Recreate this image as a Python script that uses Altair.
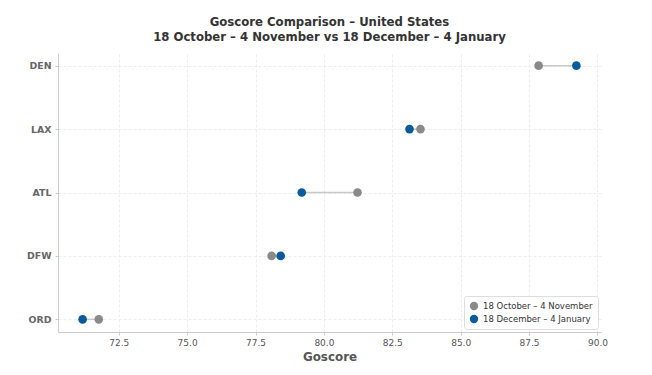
import altair as alt
import pandas as pd

airports = ["DEN", "LAX", "ATL", "DFW", "ORD"]
period_a = "18 October – 4 November"
period_b = "18 December – 4 January"
score_a = [87.85, 83.53, 81.23, 78.09, 71.77]
score_b = [89.23, 83.13, 79.19, 78.42, 71.18]
x_ticks = [72.5, 75.0, 77.5, 80.0, 82.5, 85.0, 87.5, 90.0]

wide = pd.DataFrame({"airport": airports, "a": score_a, "b": score_b})
long = pd.DataFrame({
    "airport": airports + airports,
    "period": [period_a] * len(airports) + [period_b] * len(airports),
    "score": score_a + score_b,
})

FONT = "DejaVu Sans"
xscale = alt.Scale(domain=[70.28, 90.13], nice=False, zero=False)
yscale = alt.Scale(type="point", domain=airports, padding=0.2)

rules = alt.Chart(wide).mark_rule(color="#c8c8c8", strokeWidth=1.5).encode(
    x=alt.X("a:Q", scale=xscale),
    x2="b:Q",
    y=alt.Y("airport:N", scale=yscale),
)

points = alt.Chart(long).mark_point(filled=True, size=75, opacity=1).encode(
    x=alt.X("score:Q", scale=xscale,
            axis=alt.Axis(title="Goscore", values=x_ticks, format=".1f")),
    y=alt.Y("airport:N", scale=yscale, axis=alt.Axis(title=None, grid=True)),
    color=alt.Color("period:N",
                    scale=alt.Scale(domain=[period_a, period_b], range=["#8a8a8a", "#0a5a9c"]),
                    legend=alt.Legend(title=None, orient="bottom-right", offset=3,
                                      symbolType="circle", symbolSize=70,
                                      labelFont=FONT, labelFontSize=8.5, labelColor="#333",
                                      strokeColor="#dddddd", fillColor="white",
                                      padding=5, cornerRadius=3, rowPadding=3)),
)

chart = (rules + points).properties(
    width=543, height=279,
    padding={"left": 0, "top": 9, "right": 5, "bottom": 5},
    title=alt.TitleParams(
        text=["Goscore Comparison – United States", "18 October – 4 November vs 18 December – 4 January"],
        anchor="middle", font=FONT, fontSize=11.7, fontWeight="bold", color="#333333",
        lineHeight=15, offset=9),
).configure_view(stroke=None).configure_axis(
    domainColor="#cccccc", tickColor="#cccccc", tickSize=3,
    gridColor="#e8e8e8", gridDash=[3, 2], gridWidth=0.8,
    labelFont=FONT, titleFont=FONT,
).configure_axisX(
    labelFontSize=9, labelColor="#555555", titleFontSize=11.9, titleFontWeight="bold",
    titleColor="#555555", titlePadding=4, labelPadding=3,
).configure_axisY(
    labelFontSize=9.4, labelFontWeight="bold", labelColor="#666666", labelPadding=4,
    minExtent=50, maxExtent=50,
)

chart.save("out.html", embed_options={"renderer": "svg", "actions": False})
